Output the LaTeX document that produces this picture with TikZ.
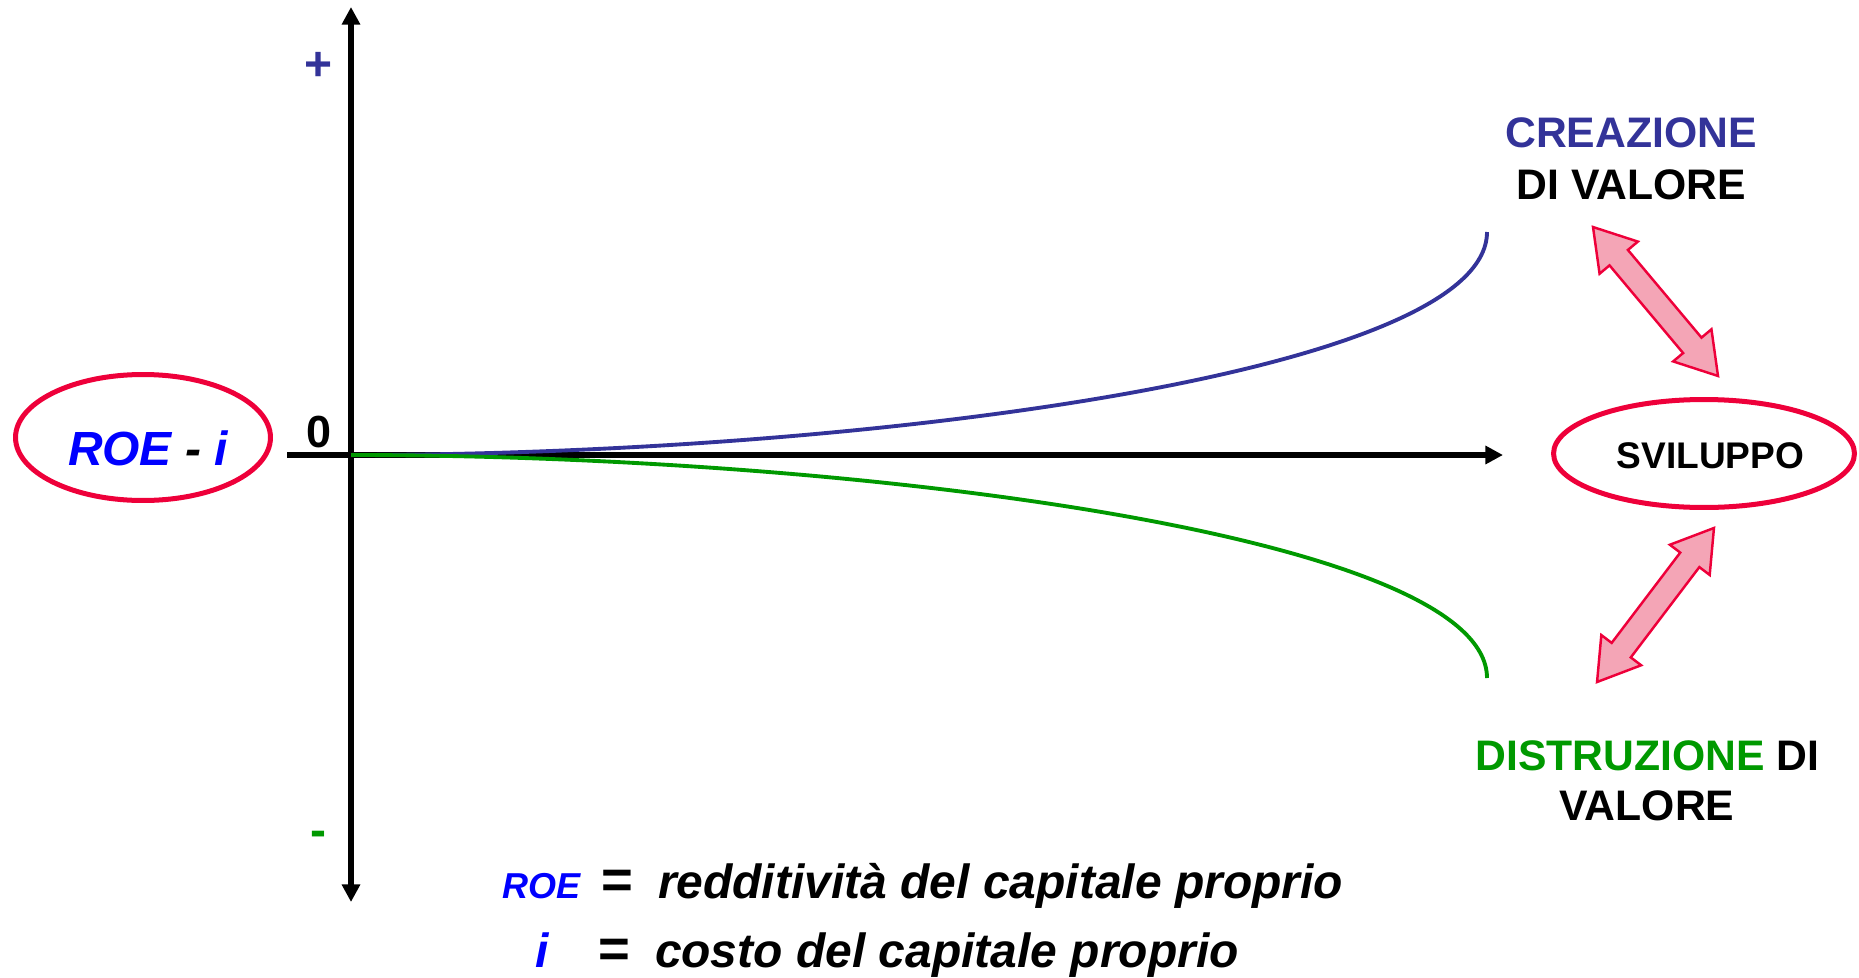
\documentclass[tikz,border=0pt]{standalone}
\usepackage{fontspec}
\setmainfont{Liberation Sans}
\usetikzlibrary{shapes.geometric,arrows.meta}
\definecolor{ered}{RGB}{238,0,58}
\definecolor{dblue}{RGB}{51,51,153}
\definecolor{dgreen}{RGB}{0,153,0}
\definecolor{roeblue}{RGB}{0,0,255}
\definecolor{apink}{RGB}{244,165,182}
\newcommand{\myfs}[1]{\fontsize{#1}{#1}\selectfont}
\tikzset{
  axtip/.tip={Triangle[width=10pt,length=10pt]},
  every node/.style={inner sep=0pt,outer sep=0pt},
  axisline/.style={line width=2.95pt},
  curveline/.style={line width=2.2pt},
  ringnode/.style={ellipse,draw=ered,line width=2.85pt},
  lbl/.style={font=\bfseries\myfs{24.3pt},anchor=base},
  legtxt/.style={font=\bfseries\itshape\myfs{27.3pt},anchor=base west},
  eqsign/.style={font=\bfseries\myfs{31pt},anchor=base west},
  dblarrow/.style={draw=ered,fill=apink,line width=1.4pt,line join=miter},
}
\begin{document}
\begin{tikzpicture}[x=0.02cm,y=-0.02cm]
\useasboundingbox (0,0) rectangle (1859,977);

% axes
\coordinate (O) at (351,455);
\coordinate (yt) at (351,7);
\coordinate (yb) at (351,902);
\coordinate (xl) at (287,455);
\coordinate (xr) at (1503,455);
\draw[axisline,arrows={axtip-axtip}] (yb) -- (yt);
\draw[axisline,arrows={-axtip}] (xl) -- (xr);

% curves
\coordinate (bc1) at (851,455);
\coordinate (bc2) at (1487,375);
\coordinate (bend) at (1487,232);
\coordinate (gc1) at (851,455);
\coordinate (gc2) at (1487,535);
\coordinate (gend) at (1487,678);
\draw[curveline,draw=dblue] (O) .. controls (bc1) and (bc2) .. (bend);
\draw[curveline,draw=dgreen] (O) .. controls (gc1) and (gc2) .. (gend);

% axis marks
\node[anchor=base,font=\bfseries\myfs{25.6pt}] (zero) at (319.5,447) {0};
\node[font=\bfseries\myfs{27.3pt},text=dblue] (plus) at (319,66) {+};
\node[anchor=base,font=\bfseries\myfs{27.3pt},text=dgreen] (minus) at (318,846) {-};

% left ellipse
\node[ringnode,minimum width=5.1cm,minimum height=2.52cm] (roe) at (143,437.5) {};
\node[anchor=base west,font=\bfseries\itshape\myfs{27.3pt}] (roetxt) at (68,465)
  {\textcolor{roeblue}{ROE} - \textcolor{roeblue}{i}};

% right ellipse
\node[ringnode,minimum width=6.02cm,minimum height=2.16cm] (svil) at (1704,453.5) {};
\node[anchor=base,font=\bfseries\myfs{21.1pt}] (sviltxt) at (1710.5,468) {SVILUPPO};

% labels
\node[lbl] (cre) at (1631,147) {\textcolor{dblue}{CREAZIONE}};
\node[lbl] (crev) at (1631.5,199) {DI VALORE};
\node[lbl] (dis) at (1647.5,770) {\textcolor{dgreen}{DISTRUZIONE} DI};
\node[lbl] (disv) at (1647,820) {VALORE};

% double arrows
\begin{scope}[shift={(1655.5,301.5)},rotate=-50]
\draw[dblarrow] (1.945cm,0) -- (1.145cm,0.5cm) -- (1.145cm,0.24cm) -- (-1.145cm,0.24cm)
  -- (-1.145cm,0.5cm) -- (-1.945cm,0) -- (-1.145cm,-0.5cm) -- (-1.145cm,-0.24cm)
  -- (1.145cm,-0.24cm) -- (1.145cm,-0.5cm) -- cycle;
\end{scope}
\begin{scope}[shift={(1655.5,605)},rotate=52.8]
\draw[dblarrow] (1.934cm,0) -- (1.134cm,0.5cm) -- (1.134cm,0.24cm) -- (-1.134cm,0.24cm)
  -- (-1.134cm,0.5cm) -- (-1.934cm,0) -- (-1.134cm,-0.5cm) -- (-1.134cm,-0.24cm)
  -- (1.134cm,-0.24cm) -- (1.134cm,-0.5cm) -- cycle;
\end{scope}

% legend
\node[anchor=base west,font=\bfseries\itshape\myfs{20.5pt},text=roeblue] (roeleg) at (502,898) {ROE};
\node[eqsign] (eq1) at (601,898) {=};
\node[legtxt] (def1) at (658,898) {redditività del capitale proprio};
\node[legtxt,text=roeblue] (ileg) at (535,967) {i};
\node[eqsign] (eq2) at (598,967) {=};
\node[legtxt] (def2) at (655,967) {costo del capitale proprio};
\end{tikzpicture}
\end{document}
